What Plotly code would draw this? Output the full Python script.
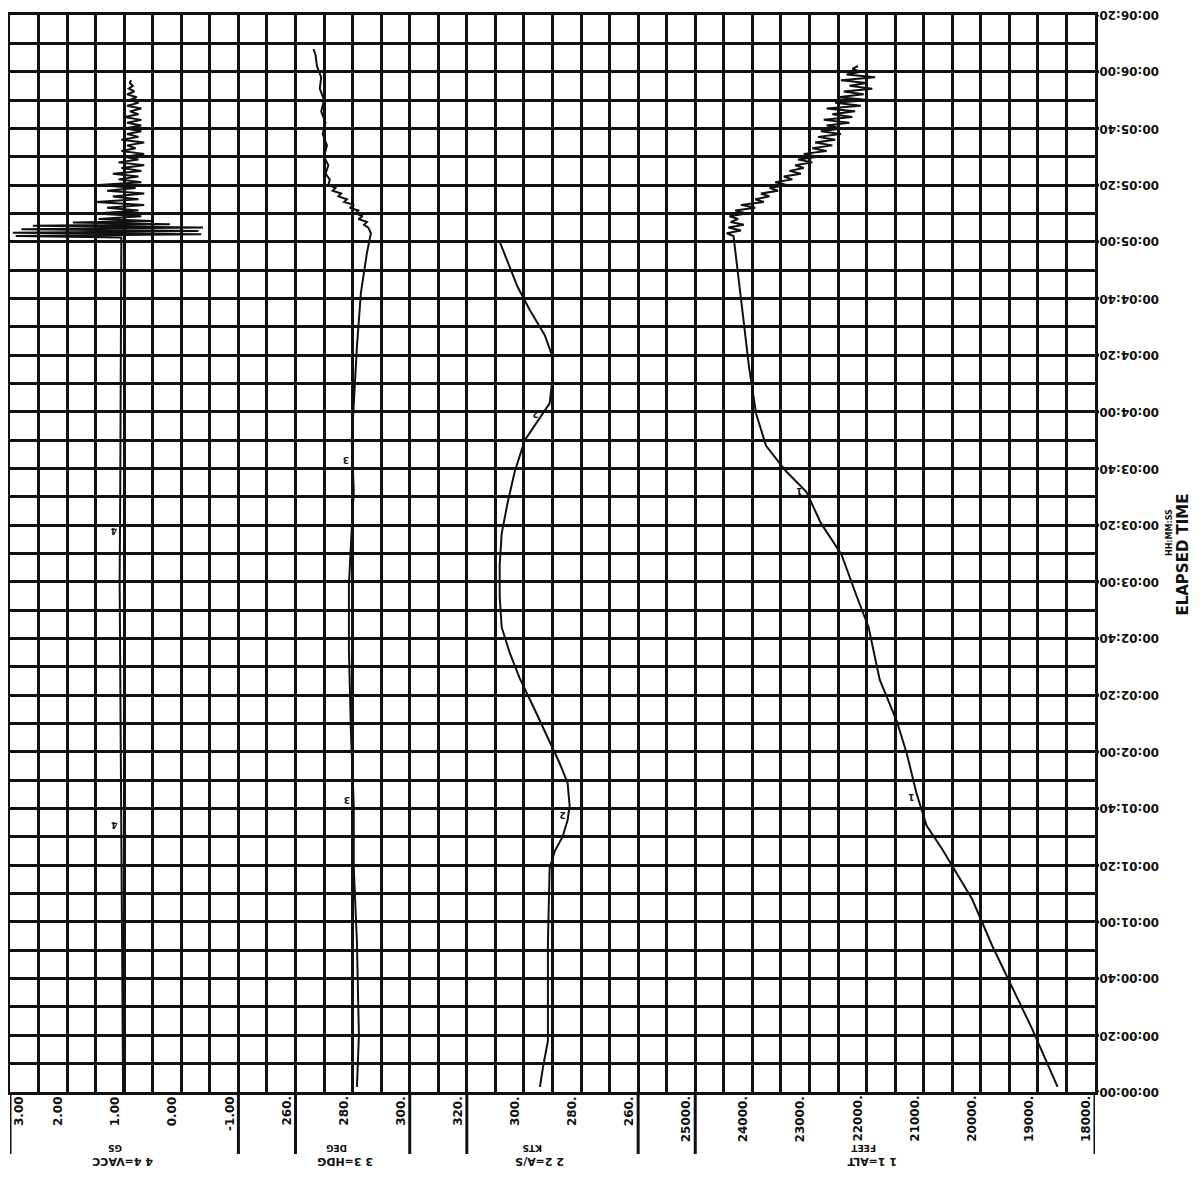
import numpy as np
import plotly.graph_objects as go

# time axis (seconds of elapsed time), grid is 38 x 38 cells
N_COLS = 38
T_MAX = 380
time_tick_vals = [0, 20, 40, 60, 80, 100, 120, 140, 160, 180, 200, 220, 240, 260, 280, 300, 320, 340, 360, 380]
time_tick_text = ["00:00:00", "00:00:20", "00:00:40", "00:01:00", "00:01:20", "00:01:40", "00:02:00",
                  "00:02:20", "00:02:40", "00:03:00", "00:03:20", "00:03:40", "00:04:00", "00:04:20",
                  "00:04:40", "00:05:00", "00:05:20", "00:05:40", "00:06:00", "00:06:20"]

# 4 = VACC (G)
vacc_t = [0, 30, 60, 90, 120, 150, 180, 210, 240, 270, 300, 301.5,
          302, 302.6, 303.2, 303.8, 304.4, 305, 305.6, 306.2, 306.8, 307.3,
          308, 309, 310, 311, 312, 313, 314, 315, 316, 317, 318, 319, 320, 321, 322, 323, 324, 325,
          326, 327, 328, 329, 330, 331, 332, 333, 334, 335, 336, 337, 338, 339, 340, 341, 342, 343,
          344, 345, 346, 347, 348, 349, 350, 351, 352, 353, 354, 355, 356, 357]
vacc_g = [1.02, 1.03, 1.05, 1.06, 1.06, 1.07, 1.08, 1.07, 1.06, 1.05, 1.05, 1.05,
          2.9, -0.35, 2.95, -0.3, 2.8, -0.38, 2.6, 0.2, 1.9, 0.5,
          1.45, 0.7, 1.5, 0.75, 1.3, 0.65, 1.5, 0.75, 1.2, 0.65, 1.3, 0.8, 1.45, 0.7, 1.1, 0.75, 1.2, 0.7,
          1.05, 0.65, 1.1, 0.75, 1.0, 0.65, 1.05, 0.8, 0.95, 0.65, 1.05, 0.75, 0.95, 0.7, 1.0, 0.7, 0.95, 0.7,
          1.0, 0.75, 0.9, 0.7, 0.95, 0.75, 0.9, 0.78, 0.95, 0.82, 0.92, 0.85, 0.9, 0.88]

# 3 = HDG (DEG)
hdg_t = [1.8, 20, 53, 79, 101, 127, 156, 179, 193, 212, 230, 245, 263, 282, 296, 303,
         305, 306, 307, 308, 309, 310, 311, 312, 313, 314, 315, 316, 317, 318, 319, 320,
         322, 324, 327, 330, 334, 338, 342, 346, 350, 354, 358, 362, 366, 368]
hdg_deg = [281.5, 282.2, 281.5, 280.4, 280.4, 279.4, 278.7, 278.7, 279.4, 280.4, 279.7, 280.4, 281.5, 282.9, 285.0, 286.4,
           285.5, 284.0, 285.0, 282.0, 283.5, 281.0, 282.0, 279.0, 280.5, 277.0, 278.0, 275.0, 276.0, 273.0, 274.0, 271.5,
           272.0, 270.5, 271.5, 270.0, 271.0, 269.5, 270.5, 269.0, 270.0, 268.5, 269.0, 267.5, 267.0, 266.3]

# 2 = A/S (KTS)
as_t = [1.8, 9, 18, 53, 79, 85, 90, 96, 101, 109, 116, 125, 134, 146, 155, 164, 175, 186,
        197, 208, 219, 230, 238, 243, 252, 260, 267, 276, 284, 293, 298, 300]
as_kts = [294.4, 293.3, 291.6, 291.6, 291.0, 289.2, 286.5, 284.7, 284.0, 284.7, 287.5, 291.6, 295.8, 301.5,
          305.0, 307.8, 308.5, 308.5, 307.8, 305.7, 303.2, 299.7, 294.4, 291.0, 290.0, 290.2, 292.7, 298.0,
          302.2, 305.7, 307.5, 308.5]

# 1 = ALT (FEET)
alt_t = [1.8, 22, 40.5, 51.6, 68, 77, 85.8, 94, 105, 119.7, 130.8, 145.5, 164, 175, 189.7, 200.7, 211.8,
         219, 228, 239.4, 256, 274, 289, 302,
         303, 304, 305, 306, 307, 308, 309, 310, 311, 312, 313, 314, 315, 316, 317, 318, 319, 320, 321, 322,
         323, 324, 325, 326, 327, 328, 329, 330, 331, 332, 333, 334, 335, 336, 337, 338, 339, 340, 341, 342,
         343, 344, 345, 346, 347, 348, 349, 350, 351, 352, 353, 354, 355, 356, 357, 358, 359, 360, 361, 362]
alt_ft = [18655, 19095, 19535, 19800, 20150, 20415, 20680, 20950, 21120, 21300, 21470, 21770, 21965, 22175,
          22440, 22800, 23055, 23410, 23760, 23935, 24060, 24165, 24255, 24330,
          24450, 24200, 24420, 24150, 24380, 24250, 24400, 24100, 24300, 23950, 24200, 23800, 23950, 23700,
          23850, 23550, 23700, 23400, 23600, 23300, 23450, 23150, 23350, 23100, 23250, 22950, 23200, 22850,
          23100, 22700, 22950, 22600, 22900, 22550, 22850, 22450, 22800, 22400, 22700, 22300, 22750, 22250,
          22600, 22200, 22700, 22100, 22550, 21950, 22500, 22050, 22400, 21900, 22300, 22000, 22450, 21850,
          22350, 22100, 22250, 22150]

# bottom scales
vacc_ticks = [3.0, 2.0, 1.0, 0.0, -1.0]
vacc_labels = ["3.00", "2.00", "1.00", "0.00", "-1.00"]
hdg_ticks = [260, 280, 300]
hdg_labels = ["260.", "280.", "300."]
as_ticks = [320, 300, 280, 260]
as_labels = ["320.", "300.", "280.", "260."]
alt_ticks = [25000, 24000, 23000, 22000, 21000, 20000, 19000, 18000]
alt_labels = ["25000.", "24000.", "23000.", "22000.", "21000.", "20000.", "19000.", "18000."]

# curve titles (main line, unit line)
titles = [("4 4=VACC", "GS"), ("3 3=HDG", "DEG"), ("2 2=A/S", "KTS"), ("1 1=ALT", "FEET")]

INK = "#111111"
FONT = "DejaVu Sans"
PLOT_W, PLOT_H = 1085, 1077
PAGE_PAD = 8  # default body margin of the html page

curves = [
    ("x2", vacc_t, vacc_g, vacc_ticks, vacc_labels, "4", [94, 198]),
    ("x3", hdg_t, hdg_deg, hdg_ticks, hdg_labels, "3", [103, 223]),
    ("x4", as_t, as_kts, as_ticks, as_labels, "2", [98, 239]),
    ("x5", alt_t, alt_ft, alt_ticks, alt_labels, "1", [104, 212]),
]

fig = go.Figure()
# empty trace so the base grid subplot (x, y) exists
fig.add_trace(go.Scatter(x=[None], y=[None], xaxis="x", yaxis="y", mode="lines", hoverinfo="skip"))

annotations = []
shapes = []

for i, (xa, t, v, ticks, labels, cid, mark_t) in enumerate(curves):
    fig.add_trace(go.Scatter(
        x=v, y=t, xaxis=xa, yaxis="y", mode="lines",
        line=dict(color=INK, width=2), hoverinfo="skip"
    ))
    # tick labels, written bottom-to-top just left of their grid line
    for k, (tv, tl) in enumerate(zip(ticks, labels)):
        first_col = (i == 0 and k == 0)
        annotations.append(dict(
            x=tv, xref=xa, y=0, yref="paper", text=f"<b>{tl}</b>", showarrow=False,
            textangle=-90, xanchor="left" if first_col else "right", yanchor="top",
            yshift=-2, font=dict(family=FONT, size=12, color=INK)
        ))
    # long separator ticks at both ends of each scale
    for tv in (ticks[0], ticks[-1]):
        shapes.append(dict(type="line", xref=xa, x0=tv, x1=tv, yref="paper", y0=0, y1=-62 / PLOT_H,
                           line=dict(color=INK, width=3)))
    # curve id marks
    for mt in mark_t:
        mv = float(np.interp(mt, t, v))
        annotations.append(dict(x=mv, xref=xa, y=mt, yref="y", text="<b>" + cid + "</b>", showarrow=False,
                                textangle=180, xshift=-6, font=dict(family=FONT, size=9, color=INK)))

# curve titles, printed upside down under each scale
title_x = [123, 345, 540, 872]
for (main, unit), px in zip(titles, title_x):
    annotations.append(dict(x=(px - 10) / PLOT_W, xref="paper", xanchor="center", y=0, yref="paper",
                            yshift=-78, text=f"<b>{main}</b>", showarrow=False, textangle=180,
                            font=dict(family=FONT, size=11, color=INK)))
    annotations.append(dict(x=(px - 18) / PLOT_W, xref="paper", xanchor="center", y=0, yref="paper",
                            yshift=-63, text=f"<b>{unit}</b>", showarrow=False, textangle=180,
                            font=dict(family=FONT, size=9, color=INK)))

# elapsed time labels on the right, upside down
for tv, tl in zip(time_tick_vals, time_tick_text):
    annotations.append(dict(x=1, xref="paper", y=tv, yref="y", text=f"<b>{tl}</b>", showarrow=False,
                            textangle=180, xanchor="left", yanchor="middle", xshift=2,
                            font=dict(family=FONT, size=12, color=INK)))
    # major rows poke through the right border
    shapes.append(dict(type="line", xref="paper", x0=1, x1=1 + 4 / PLOT_W, yref="y", y0=tv, y1=tv,
                       line=dict(color=INK, width=3)))

annotations.append(dict(x=1, xref="paper", y=0.499, yref="paper", xanchor="center", xshift=88,
                        text="<b>ELAPSED TIME</b>", showarrow=False, textangle=-90,
                        font=dict(family=FONT, size=15, color=INK)))
annotations.append(dict(x=1, xref="paper", y=0.519, yref="paper", xanchor="center", xshift=74,
                        text="<b>HH:MM:SS</b>", showarrow=False, textangle=-90,
                        font=dict(family=FONT, size=8, color=INK)))

grid_axis = dict(showgrid=True, gridcolor=INK, gridwidth=3, showticklabels=False, ticks="",
                 zeroline=False, showline=True, linecolor=INK, linewidth=3, mirror=True, fixedrange=True)
data_axis = dict(overlaying="x", anchor="y", visible=False, fixedrange=True)

fig.update_layout(
    width=1203 - PAGE_PAD, height=1177 - PAGE_PAD,
    margin=dict(l=10 - PAGE_PAD, r=108, t=15 - PAGE_PAD, b=85),
    plot_bgcolor="white", paper_bgcolor="white",
    showlegend=False,
    xaxis=dict(range=[0, N_COLS], tick0=0, dtick=1, **grid_axis),
    yaxis=dict(range=[0, T_MAX], tick0=0, dtick=10, **grid_axis),
    xaxis2=dict(range=[3, -16], **data_axis),
    xaxis3=dict(range=[160, 540], **data_axis),
    xaxis4=dict(range=[480, 100], **data_axis),
    xaxis5=dict(range=[37000, 18000], **data_axis),
    annotations=annotations,
    shapes=shapes,
)

fig.write_html("out.html")
